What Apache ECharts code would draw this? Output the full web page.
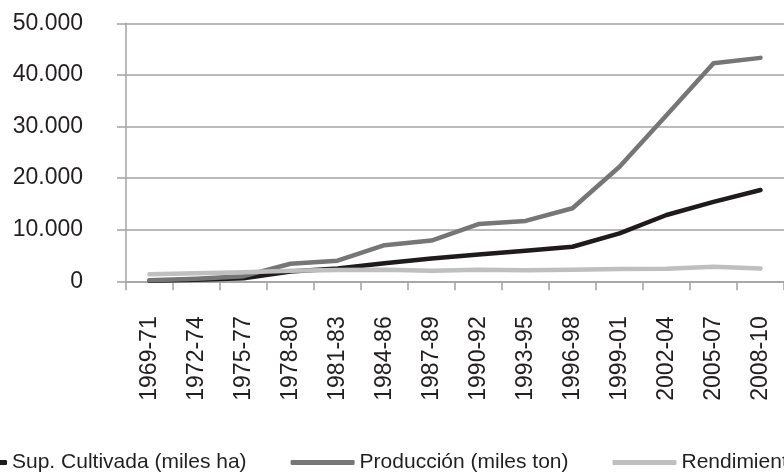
<!DOCTYPE html>
<html>
<head>
<meta charset="utf-8">
<script src="https://cdn.jsdelivr.net/npm/echarts@6/dist/echarts.min.js"></script>
<style>html,body{margin:0;padding:0;background:#fff;}#c{width:784px;height:473px;}</style>
</head>
<body>
<div id="c"></div>
<script>
const categories = ["1969-71","1972-74","1975-77","1978-80","1981-83","1984-86","1987-89","1990-92","1993-95","1996-98","1999-01","2002-04","2005-07","2008-10"];
const supCultivada = [100, 300, 600, 1900, 2500, 3500, 4400, 5200, 5900, 6700, 9300, 12850, 15400, 17700];
const produccion = [200, 500, 1000, 3400, 4000, 7000, 7900, 11100, 11700, 14150, 22200, 32200, 42250, 43300];
const rendimiento = [1350, 1550, 1750, 2050, 2200, 2250, 2050, 2250, 2150, 2250, 2400, 2450, 2800, 2500];
const seriesNames = ["Sup. Cultivada (miles ha)", "Producción (miles ton)", "Rendimiento (kg/ha)"];
const yTicks = {min: 0, max: 50000, interval: 10000};

const font = '"Liberation Sans", Arial, Helvetica, sans-serif';
const colors = ['#1f1b1c', '#767676', '#bfbfbf'];
const chart = echarts.init(document.getElementById('c'), null, {renderer: 'canvas'});
const mk = (name, data, color) => ({
  name, type: 'line', data, symbol: 'none', smooth: false,
  lineStyle: {color, width: 4.5, cap: 'round', join: 'round'},
  itemStyle: {color}
});
chart.setOption({
  animation: false,
  backgroundColor: '#fff',
  grid: {left: 126, top: 23.3, right: -8, bottom: 191.7, containLabel: false},
  legend: {
    left: -62, top: 447, width: 1400, orient: 'horizontal',
    icon: 'roundRect', itemWidth: 64, itemHeight: 5, itemGap: 44,
    textStyle: {fontFamily: font, fontSize: 21, color: '#231f20'},
    data: seriesNames
  },
  xAxis: {
    type: 'category', data: categories, boundaryGap: true,
    axisLine: {lineStyle: {color: '#a3a3a3', width: 1.5}},
    axisTick: {show: true, length: 9, lineStyle: {color: '#a3a3a3', width: 1.5}},
    axisLabel: {rotate: 90, margin: 35, fontFamily: font, fontSize: 23, color: '#231f20', interval: 0}
  },
  yAxis: {
    type: 'value', min: yTicks.min, max: yTicks.max, interval: yTicks.interval,
    axisLine: {show: true, lineStyle: {color: '#a3a3a3', width: 1.5}},
    axisTick: {show: true, length: 9, lineStyle: {color: '#a3a3a3', width: 1.5}},
    splitLine: {show: true, lineStyle: {color: '#a3a3a3', width: 1.5}},
    axisLabel: {margin: 43, fontFamily: font, fontSize: 23, color: '#231f20',
      formatter: v => String(v).replace(/\B(?=(\d{3})+(?!\d))/g, '.')}
  },
  series: [
    mk(seriesNames[0], supCultivada, colors[0]),
    mk(seriesNames[1], produccion, colors[1]),
    mk(seriesNames[2], rendimiento, colors[2])
  ]
});
</script>
</body>
</html>
